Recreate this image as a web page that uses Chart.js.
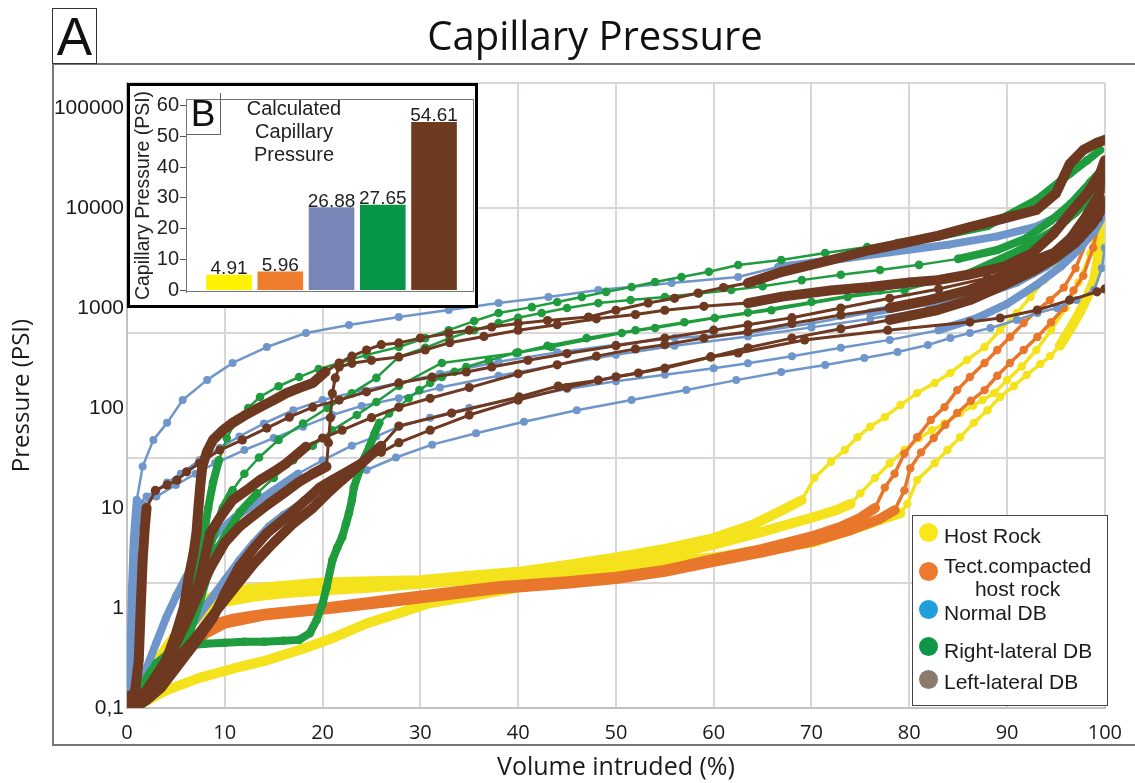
<!DOCTYPE html>
<html>
<head>
<meta charset="utf-8">
<title>Capillary Pressure</title>
<script src="https://cdn.jsdelivr.net/npm/chart.js@4.4.1/dist/chart.umd.min.js"></script>
<style>
    html, body { margin: 0; padding: 0; background: #fff; }
    #wrap { position: relative; width: 1135px; height: 783px; overflow: hidden; font-family: 'Liberation Sans', Arial, sans-serif; color: #222; }
    #main { position: absolute; left: 0; top: 0; }
    .frame { position: absolute; left: 52px; top: 63px; width: 1100px; height: 683px; box-sizing: border-box; border: 2px solid #777; border-right: none; pointer-events: none; }
    .abox { position: absolute; left: 52px; top: 8px; width: 45px; height: 56px; box-sizing: border-box; border: 1.5px solid #333; background: #fff; font-size: 53px; line-height: 55px; text-align: center; color: #111; }
    #inset { position: absolute; left: 127px; top: 83px; width: 351px; height: 225px; box-sizing: border-box; border: 3px solid #000; background: #fff; }
    #insetCanvas { position: absolute; left: 0; top: 0; }
    .bbox { position: absolute; left: 56px; top: 7px; width: 35px; height: 42px; box-sizing: border-box; border: 1px solid #666; border-left: none; border-top: none; font-size: 37px; line-height: 42px; text-align: center; color: #111; }
    .inset-title { position: absolute; left: 94px; top: 11px; width: 140px; text-align: center; font-size: 20px; line-height: 23px; color: #222; }
    #legend { position: absolute; left: 912px; top: 515px; width: 196px; height: 191px; box-sizing: border-box; border: 1.5px solid #444; background: #fff; }
    .dot { position: absolute; left: 6px; width: 19px; height: 19px; border-radius: 50%; }
    .lbl { position: absolute; left: 31px; font-size: 21px; line-height: 24px; color: #1a1a1a; white-space: nowrap; }
</style>
</head>
<body>
<div id="wrap">
    <canvas id="main" width="1135" height="783"></canvas>
    <div class="frame"></div>
    <div class="abox">A</div>
    <div id="inset">
        <canvas id="insetCanvas" width="345" height="219"></canvas>
        <div class="bbox">B</div>
        <div class="inset-title">Calculated<br>Capillary<br>Pressure</div>
    </div>
    <div id="legend"></div>
</div>
<script>
// Capillary pressure curves, [volume intruded %, pressure PSI]

// Host rock
const hostRockA = [[0.5,0.1],[2,0.2],[4,0.4],[6,0.75],[7.5,1.1],[9,1.35],[11,1.5],[14,1.6],[17,1.7],[20,1.8],[25,1.85],[30,1.9],[35,2.1],[40,2.3],[45,2.7],[50,3.2],[55,3.9],[60,5],[64,6.8],[67,9.5],[69,12],[70.3,20],[72,29],[73.4,38],[74.7,51],[76,65],[77.5,81],[79.1,107],[80.8,141],[82.6,178],[84.2,224],[85.9,302],[87.7,407],[89.3,603],[91,891],[92.4,1290],[93.8,1900],[95.2,2800],[96.5,4000],[97.8,6500],[98.8,10000],[99.6,18000]];
const hostRockB = [[0.6,0.1],[2,0.18],[4,0.35],[6,0.6],[8,0.95],[10,1.15],[13,1.3],[16,1.4],[20,1.5],[25,1.6],[30,1.75],[35,1.9],[40,2.1],[45,2.4],[50,2.8],[55,3.3],[60,4.3],[65,5.8],[70,8],[72.5,9.5],[74,11],[75,14],[76.5,20],[78,28],[79.5,38],[81,50],[82.3,60],[83.6,70],[85.2,89],[86.5,105],[87.5,120],[88.7,141],[90,190],[91.5,260],[93,380],[94.5,600],[96,1000],[97.3,1800],[98.5,3500],[99.5,9000]];
const hostRockC = [[1,0.105],[4,0.15],[7.4,0.2],[11,0.25],[14.3,0.3],[18.3,0.4],[21,0.5],[24.5,0.7],[28,0.9],[31,1.12],[35,1.3],[40,1.6],[45,2],[50,2.5],[55,2.9],[60,3.2],[65,3.8],[70,4.5],[75,6.5],[79.1,8.9],[79.8,11],[80.8,19],[82.6,28],[83.9,38],[85.2,51],[86.6,71],[88,95],[89.3,129],[90.7,166],[92,214],[93.4,275],[94.4,330],[95.4,420],[96.4,603],[97.4,891],[98.2,1290],[98.9,1900],[99.5,4000],[100,9000]];

// Tectonically compacted host rock
const tectCompactedA = [[0.5,0.1],[2,0.16],[4,0.26],[6,0.42],[7.4,0.56],[8.5,0.68],[10.8,0.78],[14.3,0.88],[19.9,1],[24,1.12],[27.8,1.25],[33,1.45],[38,1.65],[45,1.85],[50,2.05],[55,2.4],[60,3.1],[65,3.9],[70,5.2],[73,6.5],[75,8],[76.5,10],[77.5,16],[78.5,22],[79.5,35],[80.8,51],[82.2,76],[83.6,102],[84.9,151],[86.2,204],[87.7,282],[89,380],[90.3,513],[91.7,708],[93.1,955],[94.4,1200],[95.8,1600],[97,2500],[98.3,5000],[99.4,12000]];
const tectCompactedB = [[0.6,0.1],[2,0.14],[4,0.22],[6,0.36],[8,0.55],[10,0.7],[14,0.84],[20,0.96],[28,1.18],[38,1.55],[45,1.75],[50,1.95],[55,2.3],[60,2.9],[65,3.6],[70,4.6],[74,6],[77,7.8],[78.5,9.5],[79.5,15],[80.1,25],[81.2,36],[82.5,50],[83.7,68],[84.9,89],[86.3,118],[87.7,151],[89,210],[90.3,282],[91.7,380],[93.1,513],[94.5,720],[95.8,1000],[96.8,1500],[97.8,2100],[98.8,4000],[99.7,10000]];

// Normal DB
const normalDbA = [[0.3,0.1],[0.4,0.5],[0.5,1.5],[0.7,5],[1,12],[1.6,26],[2.7,48],[4.1,71],[5.7,120],[8.2,191],[10.8,282],[14.3,407],[18.3,562],[22.7,676],[27.8,813],[32.9,955],[38,1120],[43.1,1290],[48.2,1514],[55.7,1778],[62.5,2040],[66.6,2570],[72,3000],[78,3600],[84,4300],[89,5200],[93,6500],[96,9000],[98.5,14000],[100,22000]];
const normalDbB = [[0.5,0.1],[0.6,1],[0.8,5],[1.2,11],[2,13],[3,15],[4.1,18],[5.5,22],[7.4,30],[9.5,40],[11.5,52],[14,70],[17,95],[20,120],[24,150],[27.8,178],[32,220],[38,290],[44,360],[50,430],[56,500],[63.5,560],[70,700],[76,900],[82,1150],[87,1500],[91,2100],[94,3000],[96.5,4500],[98.5,7000],[100,11000]];
const normalDbC = [[0.6,0.1],[1,0.15],[2,0.25],[3,0.45],[4,0.8],[5,1.3],[6,2],[7,3],[8,4.2],[9.5,6],[11,8],[13,11],[15,15],[17.5,22],[20,30],[23,42],[25.5,52],[27.8,65],[31,80],[35,100],[40,125],[45,155],[50,185],[55,215],[60,250],[63.5,280],[68,330],[73,400],[78,480],[83,600],[87,800],[90,1100],[93,1700],[95.5,2600],[97.5,4000],[99,6000],[100,9000]];
const normalDbD = [[0.7,0.1],[1.5,0.13],[3,0.25],[5,0.45],[7,0.75],[8.5,1.2],[10,1.9],[11.5,3],[13,4.5],[14.5,6.5],[16,8.5],[17.5,10.5],[19,13],[21.4,18],[24.5,24],[27.5,32],[31.2,43],[35.7,56],[40.6,73],[46,95],[51.6,120],[57.2,151],[62.3,190],[66.9,229],[71.4,269],[75.4,316],[78.8,363],[81.9,427],[84.2,501],[86.2,562],[88.3,631],[91,759],[93.1,891],[95.1,1000],[97.1,1200],[98.9,1514],[99.7,2500],[100,4000]];
const normalDbE = [[0.4,0.1],[0.5,0.8],[0.7,4],[1,9],[1.5,11],[3,13],[5,17],[7,22],[9,28],[12,38],[15,50],[18,65],[21,85],[24,105],[27.8,125],[32,160],[38,210],[44,270],[50,340],[56,420],[63.5,520],[70,640],[76,780],[82,980],[87,1300],[91,1800],[94,2600],[96.5,3800],[98.5,6000],[100,9500]];

// Right-lateral DB
const rightLatDbA = [[1,0.1],[2.5,0.14],[4,0.22],[5,0.35],[6,0.6],[6.8,1.2],[7.3,2.5],[7.8,5],[8.3,10],[8.8,18],[9.4,30],[10.2,50],[11.2,76],[12.4,100],[13.6,129],[15.5,165],[17.6,204],[19.6,245],[21.7,282],[24.5,340],[27.8,407],[30.5,500],[32.9,600],[35.5,740],[38,890],[41.4,1020],[44,1150],[46.5,1290],[49,1450],[51.6,1620],[54,1820],[56.7,2040],[59.5,2300],[62.5,2690],[66.9,3020],[71.4,3550],[75.7,4070],[78.8,4470],[83,5200],[88,6600],[93,12000],[96.4,22000],[98.2,30000],[99.5,38000]];
const rightLatDbB = [[0.8,0.1],[2,0.13],[3.5,0.2],[5,0.4],[6.5,0.9],[7.5,1.8],[8.3,3.5],[9,6],[9.8,10],[10.8,15],[12,22],[13.5,32],[15.5,48],[18,70],[20.5,100],[23,140],[25.5,200],[27.8,324],[30.5,400],[33,500],[35.5,600],[38,708],[40,800],[42.4,891],[45,1000],[48.2,1120],[51.5,1200],[55,1290],[58.5,1400],[61.8,1514],[65,1650],[69,1900],[73,2150],[77,2400],[81,2700],[85,3100],[89,3800],[92,5000],[94.5,7500],[96.5,11000],[98.5,18000],[100,26000]];
const rightLatDbC = [[1.2,0.1],[3,0.15],[5,0.3],[6.5,0.6],[7.5,1.2],[8.5,2.6],[9.3,4],[10.2,5.6],[11.5,9],[13.3,14],[15,20],[17,30],[19,42],[21,60],[23.5,85],[25.5,115],[27.8,166],[32.2,282],[39.8,355],[43.4,407],[50.6,562],[54,631],[60.1,794],[65.9,950],[73.7,1290],[79.5,1510],[86.2,2240],[91.3,3800],[94.8,6000],[97,9000],[98.8,13000],[100,20000]];
const rightLatDbD = [[0.5,0.11],[1.5,0.17],[3,0.28],[4.5,0.37],[6,0.42],[8,0.44],[10,0.45],[12,0.46],[14,0.46],[16,0.47],[17.6,0.48],[18.7,0.56],[19.4,0.76],[20,1.1],[20.4,1.6],[21,3],[21.5,4],[22,5.1],[22.4,7],[22.7,8.9],[23,12],[23.2,16],[23.8,24],[24.3,32],[24.8,41],[25.3,55],[25.8,71],[26.8,88],[27.8,102],[28.8,125],[29.9,151],[31,178],[32.2,204],[33.5,230],[34.7,257],[37,300],[40,360],[43,420],[47,500],[52,600],[57,720],[63.5,900],[70,1150],[77,1500],[84,2000],[89,2800],[93,4500],[96,7500],[98.5,12000],[100,18000]];

// Left-lateral DB
const leftLatDbA = [[0.5,0.1],[1.5,0.12],[3,0.2],[4,0.3],[5,0.55],[5.8,1],[6.3,2],[6.8,3.5],[7.1,5.6],[7.3,10],[7.5,17],[7.7,26],[8.2,37],[8.8,48],[9.8,60],[10.8,71],[12.2,86],[13.6,102],[15,120],[16.3,141],[17.7,160],[19,178],[20.3,230],[21.7,282],[23,330],[24.5,380],[26,430],[27.8,447],[30,500],[32.9,560],[35,600],[37.3,646],[40,700],[43,750],[47.2,813],[50,950],[53.3,1120],[56,1250],[58.4,1410],[61,1600],[63.5,1780],[67,2300],[72,3020],[76,3800],[79.5,4470],[83,5300],[86.2,6460],[89.5,7800],[93,9550],[95,14000],[96.4,27500],[97.8,38000],[99.2,45000],[100,48000]];
const leftLatDbB = [[0.1,0.13],[0.8,0.14],[1.2,0.3],[1.4,1],[1.6,3],[1.8,6],[2,10],[2.9,15],[4.1,17],[5.1,19],[6.1,23],[7.4,28],[9.5,38],[11.8,48],[14.3,63],[16.6,81],[19,102],[21.7,120],[24.5,145],[27.8,178],[31.2,204],[34.7,229],[37.3,257],[41,300],[45,350],[50,420],[55,500],[60,600],[63.5,680],[68,800],[73,1000],[78,1250],[83,1550],[88,2000],[92,2700],[95,3500],[97.5,5000],[99.3,8000],[100,12000]];
const leftLatDbC = [[0.3,0.1],[1.5,0.12],[3,0.2],[4.5,0.35],[6,0.7],[7.2,1.3],[8.5,2.5],[10,4.5],[11.5,6.5],[13,8.5],[14.5,11],[16,14],[17.5,18],[19,22],[20.4,26],[20.6,45],[20.8,80],[21,140],[21.3,200],[21.7,257],[23,280],[25,300],[27.8,324],[30.5,380],[33,450],[36.5,520],[40,600],[44,680],[48,780],[52,860],[55,950],[59,1040],[63.5,1120],[67,1300],[72,1500],[76,1620],[80,1800],[82.9,1900],[86,2150],[89.7,2600],[92.5,3500],[94.8,5600],[96.5,9000],[98.2,14000],[99.5,22000],[100,30000]];
const leftLatDbD = [[0.5,0.11],[2,0.15],[4,0.3],[5.5,0.6],[6.5,1],[7.5,2],[8.5,5.6],[9.5,8],[10.8,12],[12.2,15],[13.6,19],[15,23],[16.3,28],[18.3,41],[20,50],[22,60],[25,80],[27.8,102],[31,125],[35,160],[40,220],[44,270],[48,330],[52,390],[55,430],[59,500],[63.5,580],[68,700],[73,850],[78,1000],[82,1200],[86,1500],[89.7,2100],[92.5,2900],[94.8,3550],[96.5,5000],[98,8000],[99.3,13000],[100,20000]];
const leftLatDbE = [[0.6,0.1],[2,0.12],[3.5,0.16],[5,0.25],[7,0.45],[8.8,0.8],[10,1.4],[11.5,2.6],[13,4],[14.3,5.6],[16.3,8.1],[18.3,12],[19.7,16],[21,19],[22.5,23],[24,28],[26,36],[27.8,45],[31,60],[35,85],[40,120],[45,160],[50,205],[55,250],[59.7,324],[63.5,400],[68,500],[73,620],[78,760],[82.9,955],[86.2,1200],[89.7,1700],[92.5,2300],[95,3200],[97,4500],[98.8,7000],[100,11000]];
const leftLatDbF = [[1,0.12],[3,0.18],[5,0.3],[7,0.5],[9,0.9],[11,1.6],[13,2.8],[15,4.5],[17,7],[19,10],[20.5,14],[22,19],[24,28],[26,42],[27.8,66],[33.2,89],[40.1,129],[44.1,166],[48.2,190],[52.3,224],[59.7,324],[62.5,355],[69.3,479],[77.8,600],[86.2,724],[89.3,794],[93.1,955],[96.4,1200],[99.2,1450],[100,1550]];

// Axis ticks
const xTicks = [0, 10, 20, 30, 40, 50, 60, 70, 80, 90, 100];
const pressureTicks = [0.1, 1, 10, 100, 1000, 10000, 100000];
const pressureTickLabels = ['0,1', '1', '10', '100', '1000', '10000', '100000'];

// Inset B: calculated capillary pressure
const insetCategories = ['Host Rock', 'Tect.compacted host rock', 'Normal DB', 'Right-lateral DB', 'Left-lateral DB'];
const insetValues = [4.91, 5.96, 26.88, 27.65, 54.61];
const insetTicks = [0, 10, 20, 30, 40, 50, 60];

// Legend entries
const legendLabels = ['Host Rock', 'Tect.compacted<br>host rock', 'Normal DB', 'Right-lateral DB', 'Left-lateral DB'];
const legendColors = ['#FBE81A', '#EE7A30', '#1FA0DC', '#0E9646', '#8A7A6E'];

// ---- styles ----
const groupStyles = {
    host:   { color: '#F4E31C', thin: 3.5, thick: 10, radius: 4.2, order: 5 },
    tect:   { color: '#E8772B', thin: 3.5, thick: 10, radius: 4.2, order: 4 },
    normal: { color: '#6F96CB', thin: 2.5, thick: 8, radius: 4, order: 3 },
    right:  { color: '#1F9C3D', thin: 2.5, thick: 8, radius: 4.3, order: 2 },
    left:   { color: '#6E3920', thin: 3, thick: 10, radius: 4.6, order: 1 }
};

// [label, group, points, x-ranges drawn as dense thick bands]
const seriesDefs = [
    ['Host Rock', 'host', hostRockA, [[0, 69]]],
    ['Host Rock', 'host', hostRockB, [[0, 74]]],
    ['Host Rock', 'host', hostRockC, [[0, 79.1], [95.5, 100]]],
    ['Tect.compacted host rock', 'tect', tectCompactedA, [[0, 76.5]]],
    ['Tect.compacted host rock', 'tect', tectCompactedB, [[0, 78.5]]],
    ['Normal DB', 'normal', normalDbA, [[0, 1.2], [68, 100]]],
    ['Normal DB', 'normal', normalDbB, [[0, 1.2], [75, 100]]],
    ['Normal DB', 'normal', normalDbC, [[0, 17], [82, 100]]],
    ['Normal DB', 'normal', normalDbD, [[0, 19]]],
    ['Normal DB', 'normal', normalDbE, [[0, 1.6], [80, 100]]],
    ['Right-lateral DB', 'right', rightLatDbA, [[0, 9.4], [80, 100]]],
    ['Right-lateral DB', 'right', rightLatDbB, [[0, 11], [84, 100]]],
    ['Right-lateral DB', 'right', rightLatDbC, [[0, 13], [86, 100]]],
    ['Right-lateral DB', 'right', rightLatDbD, [[0, 25.8]]],
    ['Left-lateral DB', 'left', leftLatDbA, [[0, 20], [65, 100]]],
    ['Left-lateral DB', 'left', leftLatDbB, [[0, 2]]],
    ['Left-lateral DB', 'left', leftLatDbC, [[0, 20.4], [64, 100]]],
    ['Left-lateral DB', 'left', leftLatDbD, [[0, 18.3], [78, 100]]],
    ['Left-lateral DB', 'left', leftLatDbE, [[0, 24], [80, 100]]],
    ['Left-lateral DB', 'left', leftLatDbF, [[0, 26]]]
];

const insetColors = ['#FFF200', '#EE7D2E', '#7A85B7', '#06964A', '#6D3B22'];

Chart.defaults.font.family = "'Liberation Sans', Arial, sans-serif";
Chart.defaults.color = '#1a1a1a';

function inSpan(spans, a, b) {
    const mid = (a + b) / 2;
    return spans.some(s => mid >= s[0] && mid <= s[1]);
}

const datasets = seriesDefs.map(([label, group, points, spans]) => {
    const st = groupStyles[group];
    return {
        label: label,
        data: points,
        borderColor: st.color,
        backgroundColor: st.color,
        pointBackgroundColor: st.color,
        pointBorderWidth: 0,
        pointRadius: st.radius,
        borderWidth: st.thin,
        borderJoinStyle: 'round',
        borderCapStyle: 'round',
        tension: 0,
        order: st.order,
        segment: {
            borderWidth: ctx => inSpan(spans, ctx.p0.parsed.x, ctx.p1.parsed.x) ? st.thick : st.thin
        }
    };
});

// gridlines of the original sit every 1.25 decades, labels every decade
function isGridValue(v) {
    const k = (Math.log10(v) + 1) / 1.25;
    return k > 0.01 && Math.abs(k - Math.round(k)) < 1e-6;
}

// move the title over the framed panel
const titleShift = {
    id: 'titleShift',
    afterLayout(chart) {
        if (chart.titleBlock) chart.titleBlock.left += 82;
    }
};

const mainChart = new Chart(document.getElementById('main'), {
    type: 'line',
    data: { datasets: datasets },
    options: {
        responsive: false,
        animation: false,
        layout: { padding: { top: 0, right: 27, bottom: 0, left: 0 } },
        plugins: {
            legend: { display: false },
            tooltip: { enabled: false },
            title: {
                display: true,
                text: 'Capillary Pressure',
                color: '#111',
                font: { family: "'Open Sans', sans-serif", size: 40, weight: 'normal' },
                padding: { top: 15, bottom: 20 }
            }
        },
        scales: {
            x: {
                type: 'linear',
                min: 0,
                max: 100,
                afterBuildTicks: scale => { scale.ticks = xTicks.map(v => ({ value: v })); },
                afterFit: scale => { scale.height = 75; },
                ticks: { font: { family: "'Open Sans', sans-serif", size: 20 }, color: '#1a1a1a', padding: 13, maxRotation: 0 },
                grid: { color: '#DAD6D6', lineWidth: 2, drawTicks: false },
                border: { color: '#C4C0C0', width: 2 },
                title: {
                    display: true,
                    text: 'Volume intruded (%)',
                    color: '#1a1a1a',
                    font: { family: "'Open Sans', sans-serif", size: 25 },
                    padding: { top: 0, bottom: 0 }
                }
            },
            y: {
                type: 'logarithmic',
                min: 0.1,
                max: Math.pow(10, 5.25),
                afterBuildTicks: scale => {
                    const vals = pressureTicks.slice();
                    for (let k = 1; k <= 5; k++) {
                        const g = Math.pow(10, -1 + 1.25 * k);
                        if (!vals.some(v => Math.abs(v - g) / g < 1e-6)) vals.push(g);
                    }
                    vals.sort((a, b) => a - b);
                    scale.ticks = vals.map(v => ({ value: v }));
                },
                afterFit: scale => { scale.width = 127; },
                ticks: {
                    autoSkip: false,
                    font: { size: 21 },
                    color: '#1a1a1a',
                    padding: 3,
                    callback: value => {
                        const i = pressureTicks.findIndex(t => Math.abs(t - value) / t < 1e-6);
                        return i >= 0 ? pressureTickLabels[i] : '';
                    }
                },
                grid: {
                    drawTicks: false,
                    lineWidth: 2,
                    color: ctx => (ctx.tick && isGridValue(ctx.tick.value)) ? '#DAD6D6' : 'rgba(0,0,0,0)'
                },
                border: { color: '#C4C0C0', width: 2 },
                title: {
                    display: true,
                    text: 'Pressure (PSI)',
                    color: '#1a1a1a',
                    font: { family: "'Open Sans', sans-serif", size: 24 },
                    padding: { top: 8, bottom: 0 }
                }
            }
        }
    },
    plugins: [titleShift]
});

// ---- inset B ----
const insetFrame = {
    id: 'insetFrame',
    beforeDatasetsDraw(chart) {
        const a = chart.chartArea;
        const ctx = chart.ctx;
        ctx.save();
        ctx.strokeStyle = '#777';
        ctx.lineWidth = 1;
        ctx.strokeRect(a.left + 0.5, a.top + 0.5, a.right - a.left - 1, a.bottom - a.top - 1);
        ctx.restore();
    }
};

const barValueLabels = {
    id: 'barValueLabels',
    afterDatasetsDraw(chart) {
        const ctx = chart.ctx;
        const meta = chart.getDatasetMeta(0);
        ctx.save();
        ctx.font = "19px 'Liberation Sans', Arial, sans-serif";
        ctx.fillStyle = '#222';
        ctx.textAlign = 'center';
        ctx.textBaseline = 'alphabetic';
        meta.data.forEach((bar, i) => {
            ctx.fillText(insetValues[i].toFixed(2), bar.x, bar.y - 1);
        });
        ctx.restore();
    }
};

const insetChart = new Chart(document.getElementById('insetCanvas'), {
    type: 'bar',
    data: {
        labels: insetCategories,
        datasets: [{
            label: 'Calculated Capillary Pressure',
            data: insetValues.map((v, i) => ({ x: i + 1, y: v })),
            backgroundColor: insetColors,
            borderWidth: 0,
            barThickness: 45
        }]
    },
    options: {
        responsive: false,
        animation: false,
        layout: { padding: { top: 7, right: 1, bottom: 9, left: 0 } },
        plugins: { legend: { display: false }, tooltip: { enabled: false } },
        scales: {
            x: { type: 'linear', min: 0.16, max: 5.78, offset: false, display: false },
            y: {
                min: -0.6,
                max: 62.2,
                afterBuildTicks: scale => { scale.ticks = insetTicks.map(v => ({ value: v })); },
                afterFit: scale => { scale.width = 56; },
                ticks: { font: { size: 20 }, color: '#222', padding: 1 },
                grid: { drawOnChartArea: false, tickLength: 6, color: '#555' },
                border: { color: '#666' },
                title: {
                    display: true,
                    text: 'Capillary Pressure (PSI)',
                    color: '#222',
                    font: { size: 19.5 },
                    padding: { top: 2, bottom: 0 }
                }
            }
        }
    },
    plugins: [insetFrame, barValueLabels]
});

// ---- legend ----
const legendEl = document.getElementById('legend');
const dotTops = [7, 46, 84, 121, 154];
const labelTops = [8, 38, 85, 123, 154];
legendLabels.forEach((text, i) => {
    const dot = document.createElement('div');
    dot.className = 'dot';
    dot.style.top = dotTops[i] + 'px';
    dot.style.background = legendColors[i];
    legendEl.appendChild(dot);

    const lbl = document.createElement('div');
    lbl.className = 'lbl';
    lbl.style.top = labelTops[i] + 'px';
    if (text.indexOf('<br>') >= 0) {
        lbl.style.textAlign = 'center';
        lbl.style.lineHeight = '23px';
    }
    lbl.innerHTML = text;
    legendEl.appendChild(lbl);
});
</script>
</body>
</html>
